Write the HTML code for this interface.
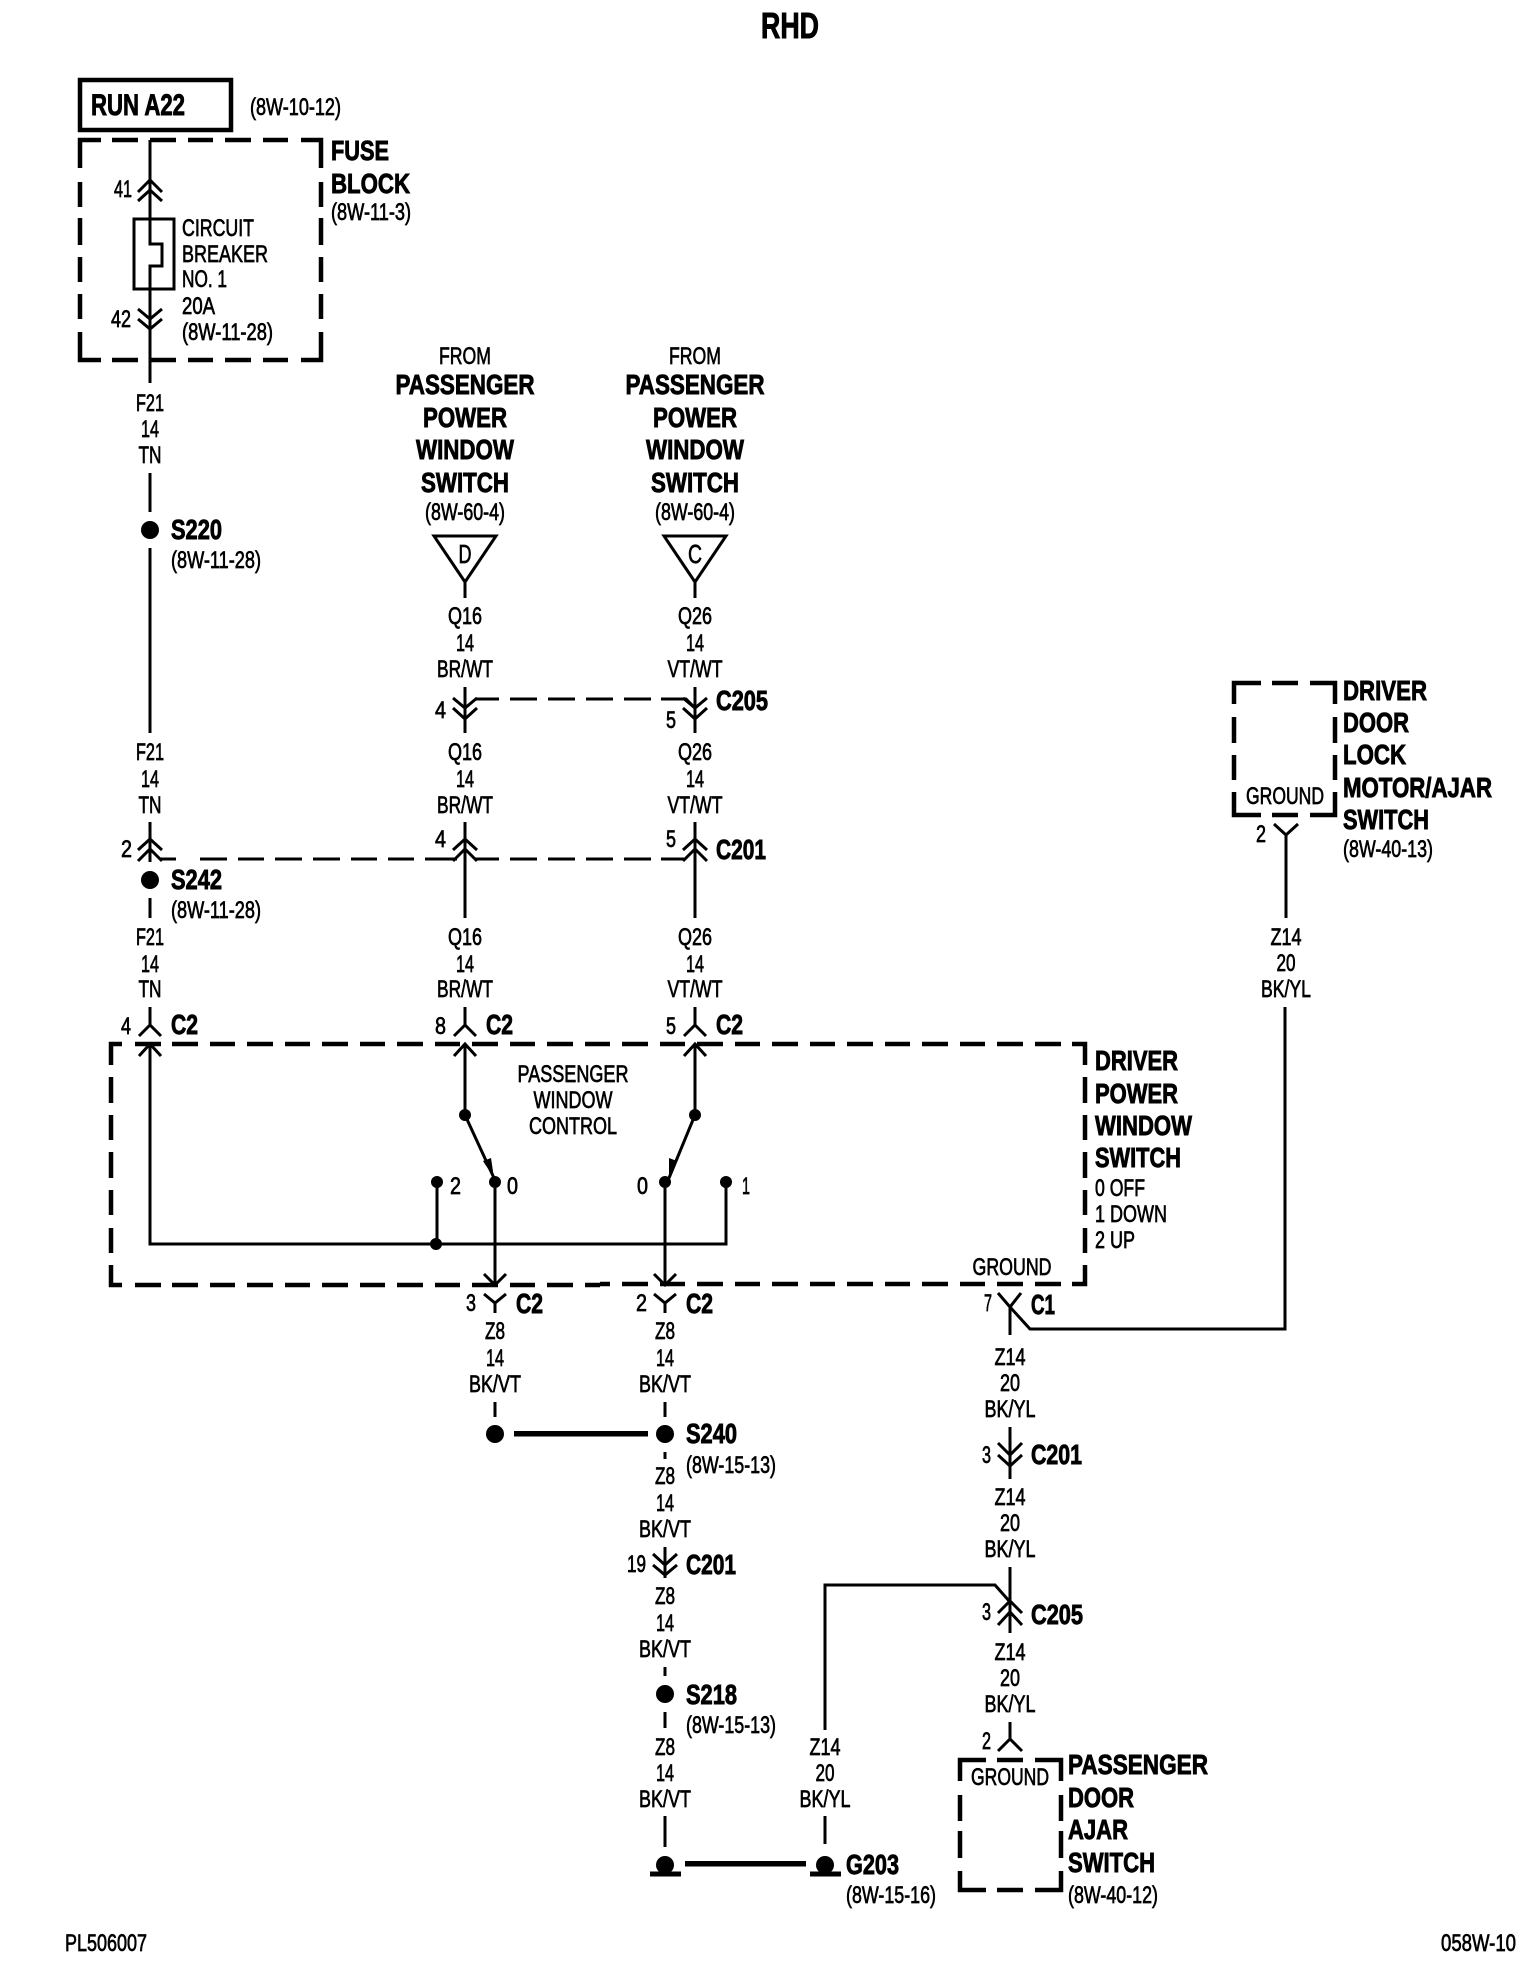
<!DOCTYPE html>
<html>
<head>
<meta charset="utf-8">
<title>RHD</title>
<style>
html,body{margin:0;padding:0;background:#fff;width:1536px;height:1972px;overflow:hidden}
svg{display:block}
text{font-family:"Liberation Sans",sans-serif;fill:#000}
.n{font-size:24px;stroke:#000;stroke-width:.7px}
.b{font-size:28px;font-weight:700;stroke:#000;stroke-width:.9px}
.m{text-anchor:middle}
.w{fill:none;stroke:#000;stroke-width:3;stroke-linejoin:miter}
.t{fill:none;stroke:#000;stroke-width:4.5;stroke-linejoin:miter}
.f{fill:#000;stroke:none}
</style>
</head>
<body>
<svg width="1536" height="1972" viewBox="0 0 1536 1972" xmlns="http://www.w3.org/2000/svg">
<rect width="1536" height="1972" fill="#fff"/>

<!-- Wires -->
<g class="w">
<path d="M150 140V219M150 289V383"/>
<path d="M138 192L150 180L162 192M138 201L150 190L162 201"/>
<path d="M138 309L150 319L162 309M138 319L150 329L162 319"/>
<rect x="134" y="219" width="40" height="70"/>
<path d="M150 219V244H162V266H150V289"/>
<path d="M150 473V512M150 548V733M150 822V862M150 898V918M150 1007V1025"/>
<path d="M138 850L150 839L162 850M138 861L150 849L162 861"/>
<path d="M465 598V582L434 536H496L465 582"/>
<path d="M695 598V582L664 536H726L695 582"/>
<path d="M465 687V733M695 687V733"/>
<path d="M453 698L465 708L477 698M453 708L465 719L477 708"/>
<path d="M683 698L695 708L707 698M683 708L695 719L707 708"/>
<path d="M465 822V918M695 822V918"/>
<path d="M453 850L465 839L477 850M453 861L465 849L477 861"/>
<path d="M683 850L695 839L707 850M683 861L695 849L707 861"/>
<path d="M160 859H176M200 859H227M238 859H264M275 859H302M313 859H340M351 859H377M388 859H414M425 859H457M475 859H499M510 859H537M548 859H575M586 859H613M624 859H651M661 859H684"/>
<path d="M475 699H499M510 699H537M548 699H575M586 699H613M624 699H651M661 699H686L695 708"/>
<path d="M465 1007V1025M695 1007V1025"/>
<path d="M139 1036L150 1025L161 1036M454 1036L465 1025L476 1036M684 1036L695 1025L706 1036"/>
<path d="M139 1056L150 1044L161 1056M454 1056L465 1044L476 1056M684 1056L695 1044L706 1056"/>
<path d="M150 1044V1244H726V1182"/>
<path d="M465 1044V1115L494 1178"/>
<path d="M695 1044V1115L669 1178"/>
<path d="M437 1182V1244"/>
<path d="M495 1182V1285M665 1182V1285"/>
<path d="M484 1274L495 1285L506 1274M654 1274L665 1285L676 1274"/>
<path d="M484 1294L495 1303L506 1294M654 1294L665 1303L676 1294"/>
<path d="M495 1303V1313M665 1303V1313"/>
<path d="M495 1402V1417M665 1402V1417M665 1452V1459M665 1547V1578"/>
<path d="M653 1554L665 1565L677 1554M653 1565L665 1575L677 1565"/>
<path d="M665 1667V1676M665 1712V1728M665 1816V1847M825 1816V1844"/>
<path d="M825 1730V1585H995L1010 1602"/>
<path d="M998 1293L1010 1307L1021 1293M1010 1307V1335M1010 1307L1030 1329H1285V1007"/>
<path d="M1010 1427V1479M998 1443L1010 1455L1022 1443M998 1455L1010 1466L1022 1455"/>
<path d="M1010 1567V1633M998 1613L1010 1601L1022 1613M998 1625L1010 1612L1022 1625"/>
<path d="M1010 1722V1739M998 1751L1010 1739L1022 1751"/>
<path d="M1286 835V918M1274 824L1286 835L1298 824"/>
</g>

<!-- Boxes -->
<rect x="80" y="80" width="151" height="50" fill="none" stroke="#000" stroke-width="4.5"/>
<g class="t">
<path d="M80 168V140H101M112 140H138M150 140H176M188 140H213M225 140H251M263 140H288M301 140H321V168"/>
<path d="M80 332V360H101M112 360H138M150 360H176M188 360H213M225 360H251M263 360H288M301 360H321V332"/>
<path d="M80 182V207M80 218V245M80 257V282M80 294V319"/>
<path d="M321 182V207M321 218V245M321 257V282M321 294V319"/>

<path d="M111 1065V1044H122M135 1044H161M172 1044H198M210 1044H235M247 1044H273M285 1044H310M322 1044H348M360 1044H385M397 1044H423M435 1044H460M472 1044H498M510 1044H535M547 1044H573M585 1044H610M622 1044H648M660 1044H685M697 1044H723M735 1044H760M772 1044H798M810 1044H835M847 1044H873M885 1044H910M922 1044H948M960 1044H985M997 1044H1023M1035 1044H1061M1072 1044H1085V1065"/>
<path d="M111 1265V1285H122M135 1285H161M172 1285H198M210 1285H235M247 1285H273M285 1285H310M322 1285H348M360 1285H385M397 1285H423M435 1285H460M472 1285H498M510 1285H535M547 1285H573M585 1285H600"/>
<path d="M600 1284H610M622 1284H648M660 1284H685M697 1284H723M735 1284H760M772 1284H798M810 1284H835M847 1284H873M885 1284H910M922 1284H948M960 1284H985M997 1284H1023M1035 1284H1061M1072 1284H1085V1265"/>
<path d="M111 1077V1103M111 1115V1140M111 1152V1178M111 1190V1215M111 1228V1253"/>
<path d="M1085 1077V1103M1085 1115V1140M1085 1152V1178M1085 1190V1215M1085 1228V1253"/>

<path d="M1234 704V683H1261M1272 683H1298M1310 683H1335V704"/>
<path d="M1234 792V815H1261M1272 815H1298M1310 815H1335V792"/>
<path d="M1234 717V743M1234 755V780M1335 717V743M1335 755V780"/>

<path d="M960 1781V1760H986M997 1760H1023M1035 1760H1061V1781"/>
<path d="M960 1871V1890H986M997 1890H1023M1035 1890H1061V1871"/>
<path d="M960 1795V1821M960 1831V1858M1061 1795V1821M1061 1831V1858"/>
</g>

<!-- Dots, thick lines, ground -->
<g class="f">
<circle cx="150" cy="530" r="9"/>
<circle cx="150" cy="880" r="9"/>
<circle cx="465" cy="1115" r="6"/>
<circle cx="695" cy="1115" r="6"/>
<circle cx="437" cy="1182" r="6"/>
<circle cx="495" cy="1182" r="6"/>
<circle cx="665" cy="1182" r="6"/>
<circle cx="726" cy="1182" r="6"/>
<circle cx="436" cy="1244" r="6"/>
<circle cx="495" cy="1434" r="9"/>
<circle cx="665" cy="1434" r="9"/>
<circle cx="665" cy="1694" r="9"/>
<circle cx="665" cy="1865" r="9"/>
<circle cx="825" cy="1865" r="9"/>
<polygon points="494,1178 483,1161 491,1158"/>
<polygon points="669,1178 669,1158 677,1161"/>
<rect x="514" y="1431" width="134" height="5.5"/>
<rect x="685" y="1861" width="121" height="5.5"/>
<rect x="650" y="1871.5" width="31" height="5"/>
<rect x="810" y="1871.5" width="31" height="5"/>
</g>

<!-- Bold labels -->
<g class="b">
<text x="790" y="38" style="font-size:36px" text-anchor="middle" textLength="58" lengthAdjust="spacingAndGlyphs">RHD</text>
<text x="91" y="115" style="font-size:30px" textLength="94" lengthAdjust="spacingAndGlyphs">RUN A22</text>
<text x="331" y="160" textLength="58" lengthAdjust="spacingAndGlyphs">FUSE</text>
<text x="331" y="193" textLength="79" lengthAdjust="spacingAndGlyphs">BLOCK</text>

<text class="m" x="465" y="394" textLength="139" lengthAdjust="spacingAndGlyphs">PASSENGER</text>
<text class="m" x="465" y="427" textLength="84" lengthAdjust="spacingAndGlyphs">POWER</text>
<text class="m" x="465" y="459" textLength="98" lengthAdjust="spacingAndGlyphs">WINDOW</text>
<text class="m" x="465" y="492" textLength="88" lengthAdjust="spacingAndGlyphs">SWITCH</text>
<text class="m" x="695" y="394" textLength="139" lengthAdjust="spacingAndGlyphs">PASSENGER</text>
<text class="m" x="695" y="427" textLength="84" lengthAdjust="spacingAndGlyphs">POWER</text>
<text class="m" x="695" y="459" textLength="98" lengthAdjust="spacingAndGlyphs">WINDOW</text>
<text class="m" x="695" y="492" textLength="88" lengthAdjust="spacingAndGlyphs">SWITCH</text>

<text x="171" y="539" textLength="51" lengthAdjust="spacingAndGlyphs">S220</text>
<text x="171" y="889" textLength="51" lengthAdjust="spacingAndGlyphs">S242</text>
<text x="716" y="710" textLength="52" lengthAdjust="spacingAndGlyphs">C205</text>
<text x="716" y="859" textLength="50" lengthAdjust="spacingAndGlyphs">C201</text>

<text x="171" y="1034" textLength="27" lengthAdjust="spacingAndGlyphs">C2</text>
<text x="486" y="1034" textLength="27" lengthAdjust="spacingAndGlyphs">C2</text>
<text x="716" y="1034" textLength="27" lengthAdjust="spacingAndGlyphs">C2</text>
<text x="516" y="1313" textLength="27" lengthAdjust="spacingAndGlyphs">C2</text>
<text x="686" y="1313" textLength="27" lengthAdjust="spacingAndGlyphs">C2</text>
<text x="1031" y="1314" textLength="24" lengthAdjust="spacingAndGlyphs">C1</text>

<text x="1095" y="1070" textLength="83" lengthAdjust="spacingAndGlyphs">DRIVER</text>
<text x="1095" y="1103" textLength="83" lengthAdjust="spacingAndGlyphs">POWER</text>
<text x="1095" y="1135" textLength="97" lengthAdjust="spacingAndGlyphs">WINDOW</text>
<text x="1095" y="1167" textLength="86" lengthAdjust="spacingAndGlyphs">SWITCH</text>

<text x="1343" y="700" textLength="84" lengthAdjust="spacingAndGlyphs">DRIVER</text>
<text x="1343" y="732" textLength="66" lengthAdjust="spacingAndGlyphs">DOOR</text>
<text x="1343" y="764" textLength="63" lengthAdjust="spacingAndGlyphs">LOCK</text>
<text x="1343" y="797" textLength="149" lengthAdjust="spacingAndGlyphs">MOTOR/AJAR</text>
<text x="1343" y="829" textLength="86" lengthAdjust="spacingAndGlyphs">SWITCH</text>

<text x="686" y="1443" textLength="51" lengthAdjust="spacingAndGlyphs">S240</text>
<text x="686" y="1574" textLength="50" lengthAdjust="spacingAndGlyphs">C201</text>
<text x="686" y="1704" textLength="51" lengthAdjust="spacingAndGlyphs">S218</text>
<text x="846" y="1874" textLength="53" lengthAdjust="spacingAndGlyphs">G203</text>
<text x="1031" y="1464" textLength="51" lengthAdjust="spacingAndGlyphs">C201</text>
<text x="1031" y="1624" textLength="52" lengthAdjust="spacingAndGlyphs">C205</text>

<text x="1068" y="1774" textLength="140" lengthAdjust="spacingAndGlyphs">PASSENGER</text>
<text x="1068" y="1807" textLength="66" lengthAdjust="spacingAndGlyphs">DOOR</text>
<text x="1068" y="1839" textLength="60" lengthAdjust="spacingAndGlyphs">AJAR</text>
<text x="1068" y="1872" textLength="87" lengthAdjust="spacingAndGlyphs">SWITCH</text>
</g>

<!-- Regular labels -->
<g class="n">
<text x="250" y="115" textLength="91" lengthAdjust="spacingAndGlyphs">(8W-10-12)</text>
<text x="331" y="220" textLength="80" lengthAdjust="spacingAndGlyphs">(8W-11-3)</text>
<text x="114" y="197" textLength="18" lengthAdjust="spacingAndGlyphs">41</text>
<text x="111" y="327" textLength="20" lengthAdjust="spacingAndGlyphs">42</text>
<text x="182" y="236" textLength="72" lengthAdjust="spacingAndGlyphs">CIRCUIT</text>
<text x="182" y="262" textLength="86" lengthAdjust="spacingAndGlyphs">BREAKER</text>
<text x="182" y="287" textLength="45" lengthAdjust="spacingAndGlyphs">NO. 1</text>
<text x="182" y="314" textLength="33" lengthAdjust="spacingAndGlyphs">20A</text>
<text x="182" y="340" textLength="91" lengthAdjust="spacingAndGlyphs">(8W-11-28)</text>

<text class="m" x="150" y="411" textLength="28" lengthAdjust="spacingAndGlyphs">F21</text>
<text class="m" x="150" y="437" textLength="18" lengthAdjust="spacingAndGlyphs">14</text>
<text class="m" x="150" y="463" textLength="23" lengthAdjust="spacingAndGlyphs">TN</text>
<text x="171" y="568" textLength="90" lengthAdjust="spacingAndGlyphs">(8W-11-28)</text>
<text class="m" x="150" y="760" textLength="28" lengthAdjust="spacingAndGlyphs">F21</text>
<text class="m" x="150" y="787" textLength="18" lengthAdjust="spacingAndGlyphs">14</text>
<text class="m" x="150" y="813" textLength="23" lengthAdjust="spacingAndGlyphs">TN</text>
<text x="121" y="857" textLength="11" lengthAdjust="spacingAndGlyphs">2</text>
<text x="171" y="918" textLength="90" lengthAdjust="spacingAndGlyphs">(8W-11-28)</text>
<text class="m" x="150" y="945" textLength="28" lengthAdjust="spacingAndGlyphs">F21</text>
<text class="m" x="150" y="972" textLength="18" lengthAdjust="spacingAndGlyphs">14</text>
<text class="m" x="150" y="997" textLength="23" lengthAdjust="spacingAndGlyphs">TN</text>
<text x="121" y="1034" textLength="10" lengthAdjust="spacingAndGlyphs">4</text>

<text class="m" x="465" y="364" textLength="52" lengthAdjust="spacingAndGlyphs">FROM</text>
<text class="m" x="465" y="520" textLength="80" lengthAdjust="spacingAndGlyphs">(8W-60-4)</text>
<text class="m" x="465" y="563" style="font-size:26px" textLength="13" lengthAdjust="spacingAndGlyphs">D</text>
<text class="m" x="465" y="624" textLength="34" lengthAdjust="spacingAndGlyphs">Q16</text>
<text class="m" x="465" y="651" textLength="18" lengthAdjust="spacingAndGlyphs">14</text>
<text class="m" x="465" y="677" textLength="56" lengthAdjust="spacingAndGlyphs">BR/WT</text>
<text x="435" y="718" textLength="11" lengthAdjust="spacingAndGlyphs">4</text>
<text class="m" x="465" y="760" textLength="34" lengthAdjust="spacingAndGlyphs">Q16</text>
<text class="m" x="465" y="787" textLength="18" lengthAdjust="spacingAndGlyphs">14</text>
<text class="m" x="465" y="813" textLength="56" lengthAdjust="spacingAndGlyphs">BR/WT</text>
<text x="435" y="847" textLength="11" lengthAdjust="spacingAndGlyphs">4</text>
<text class="m" x="465" y="945" textLength="34" lengthAdjust="spacingAndGlyphs">Q16</text>
<text class="m" x="465" y="972" textLength="18" lengthAdjust="spacingAndGlyphs">14</text>
<text class="m" x="465" y="997" textLength="56" lengthAdjust="spacingAndGlyphs">BR/WT</text>
<text x="435" y="1034" textLength="11" lengthAdjust="spacingAndGlyphs">8</text>

<text class="m" x="695" y="364" textLength="52" lengthAdjust="spacingAndGlyphs">FROM</text>
<text class="m" x="695" y="520" textLength="80" lengthAdjust="spacingAndGlyphs">(8W-60-4)</text>
<text class="m" x="695" y="563" style="font-size:26px" textLength="14" lengthAdjust="spacingAndGlyphs">C</text>
<text class="m" x="695" y="624" textLength="34" lengthAdjust="spacingAndGlyphs">Q26</text>
<text class="m" x="695" y="651" textLength="18" lengthAdjust="spacingAndGlyphs">14</text>
<text class="m" x="695" y="677" textLength="55" lengthAdjust="spacingAndGlyphs">VT/WT</text>
<text x="666" y="728" textLength="10" lengthAdjust="spacingAndGlyphs">5</text>
<text class="m" x="695" y="760" textLength="34" lengthAdjust="spacingAndGlyphs">Q26</text>
<text class="m" x="695" y="787" textLength="18" lengthAdjust="spacingAndGlyphs">14</text>
<text class="m" x="695" y="813" textLength="55" lengthAdjust="spacingAndGlyphs">VT/WT</text>
<text x="666" y="847" textLength="10" lengthAdjust="spacingAndGlyphs">5</text>
<text class="m" x="695" y="945" textLength="34" lengthAdjust="spacingAndGlyphs">Q26</text>
<text class="m" x="695" y="972" textLength="18" lengthAdjust="spacingAndGlyphs">14</text>
<text class="m" x="695" y="997" textLength="55" lengthAdjust="spacingAndGlyphs">VT/WT</text>
<text x="666" y="1034" textLength="10" lengthAdjust="spacingAndGlyphs">5</text>

<text class="m" x="573" y="1082" textLength="111" lengthAdjust="spacingAndGlyphs">PASSENGER</text>
<text class="m" x="573" y="1108" textLength="79" lengthAdjust="spacingAndGlyphs">WINDOW</text>
<text class="m" x="573" y="1134" textLength="88" lengthAdjust="spacingAndGlyphs">CONTROL</text>
<text x="450" y="1194" textLength="11" lengthAdjust="spacingAndGlyphs">2</text>
<text x="507" y="1194" textLength="11" lengthAdjust="spacingAndGlyphs">0</text>
<text x="637" y="1194" textLength="11" lengthAdjust="spacingAndGlyphs">0</text>
<text x="742" y="1194" textLength="8" lengthAdjust="spacingAndGlyphs">1</text>
<text x="466" y="1311" textLength="10" lengthAdjust="spacingAndGlyphs">3</text>
<text x="636" y="1311" textLength="11" lengthAdjust="spacingAndGlyphs">2</text>

<text x="1095" y="1196" textLength="50" lengthAdjust="spacingAndGlyphs">0 OFF</text>
<text x="1095" y="1222" textLength="72" lengthAdjust="spacingAndGlyphs">1 DOWN</text>
<text x="1095" y="1248" textLength="40" lengthAdjust="spacingAndGlyphs">2 UP</text>
<text class="m" x="1012" y="1275" textLength="79" lengthAdjust="spacingAndGlyphs">GROUND</text>
<text x="984" y="1311" textLength="8" lengthAdjust="spacingAndGlyphs">7</text>

<text class="m" x="495" y="1339" textLength="20" lengthAdjust="spacingAndGlyphs">Z8</text>
<text class="m" x="495" y="1366" textLength="18" lengthAdjust="spacingAndGlyphs">14</text>
<text class="m" x="495" y="1392" textLength="52" lengthAdjust="spacingAndGlyphs">BK/VT</text>
<text class="m" x="665" y="1339" textLength="20" lengthAdjust="spacingAndGlyphs">Z8</text>
<text class="m" x="665" y="1366" textLength="18" lengthAdjust="spacingAndGlyphs">14</text>
<text class="m" x="665" y="1392" textLength="52" lengthAdjust="spacingAndGlyphs">BK/VT</text>
<text x="686" y="1473" textLength="90" lengthAdjust="spacingAndGlyphs">(8W-15-13)</text>
<text class="m" x="665" y="1484" textLength="20" lengthAdjust="spacingAndGlyphs">Z8</text>
<text class="m" x="665" y="1511" textLength="18" lengthAdjust="spacingAndGlyphs">14</text>
<text class="m" x="665" y="1537" textLength="52" lengthAdjust="spacingAndGlyphs">BK/VT</text>
<text x="627" y="1572" textLength="19" lengthAdjust="spacingAndGlyphs">19</text>
<text class="m" x="665" y="1604" textLength="20" lengthAdjust="spacingAndGlyphs">Z8</text>
<text class="m" x="665" y="1631" textLength="18" lengthAdjust="spacingAndGlyphs">14</text>
<text class="m" x="665" y="1657" textLength="52" lengthAdjust="spacingAndGlyphs">BK/VT</text>
<text x="686" y="1733" textLength="90" lengthAdjust="spacingAndGlyphs">(8W-15-13)</text>
<text class="m" x="665" y="1755" textLength="20" lengthAdjust="spacingAndGlyphs">Z8</text>
<text class="m" x="665" y="1781" textLength="18" lengthAdjust="spacingAndGlyphs">14</text>
<text class="m" x="665" y="1807" textLength="52" lengthAdjust="spacingAndGlyphs">BK/VT</text>
<text class="m" x="825" y="1755" textLength="31" lengthAdjust="spacingAndGlyphs">Z14</text>
<text class="m" x="825" y="1781" textLength="19" lengthAdjust="spacingAndGlyphs">20</text>
<text class="m" x="825" y="1807" textLength="51" lengthAdjust="spacingAndGlyphs">BK/YL</text>
<text x="846" y="1903" textLength="90" lengthAdjust="spacingAndGlyphs">(8W-15-16)</text>

<text class="m" x="1010" y="1365" textLength="31" lengthAdjust="spacingAndGlyphs">Z14</text>
<text class="m" x="1010" y="1391" textLength="20" lengthAdjust="spacingAndGlyphs">20</text>
<text class="m" x="1010" y="1417" textLength="51" lengthAdjust="spacingAndGlyphs">BK/YL</text>
<text x="982" y="1463" textLength="9" lengthAdjust="spacingAndGlyphs">3</text>
<text class="m" x="1010" y="1505" textLength="31" lengthAdjust="spacingAndGlyphs">Z14</text>
<text class="m" x="1010" y="1531" textLength="20" lengthAdjust="spacingAndGlyphs">20</text>
<text class="m" x="1010" y="1557" textLength="51" lengthAdjust="spacingAndGlyphs">BK/YL</text>
<text x="982" y="1620" textLength="9" lengthAdjust="spacingAndGlyphs">3</text>
<text class="m" x="1010" y="1660" textLength="31" lengthAdjust="spacingAndGlyphs">Z14</text>
<text class="m" x="1010" y="1686" textLength="20" lengthAdjust="spacingAndGlyphs">20</text>
<text class="m" x="1010" y="1712" textLength="51" lengthAdjust="spacingAndGlyphs">BK/YL</text>
<text x="982" y="1749" textLength="9" lengthAdjust="spacingAndGlyphs">2</text>
<text class="m" x="1010" y="1785" textLength="78" lengthAdjust="spacingAndGlyphs">GROUND</text>
<text x="1068" y="1903" textLength="90" lengthAdjust="spacingAndGlyphs">(8W-40-12)</text>

<text class="m" x="1285" y="804" textLength="78" lengthAdjust="spacingAndGlyphs">GROUND</text>
<text x="1256" y="842" textLength="10" lengthAdjust="spacingAndGlyphs">2</text>
<text x="1343" y="857" textLength="90" lengthAdjust="spacingAndGlyphs">(8W-40-13)</text>
<text class="m" x="1286" y="945" textLength="31" lengthAdjust="spacingAndGlyphs">Z14</text>
<text class="m" x="1286" y="971" textLength="19" lengthAdjust="spacingAndGlyphs">20</text>
<text class="m" x="1286" y="997" textLength="50" lengthAdjust="spacingAndGlyphs">BK/YL</text>

<text x="65" y="1951" textLength="82" lengthAdjust="spacingAndGlyphs">PL506007</text>
<text x="1441" y="1951" textLength="75" lengthAdjust="spacingAndGlyphs">058W-10</text>
</g>
</svg>
</body>
</html>
